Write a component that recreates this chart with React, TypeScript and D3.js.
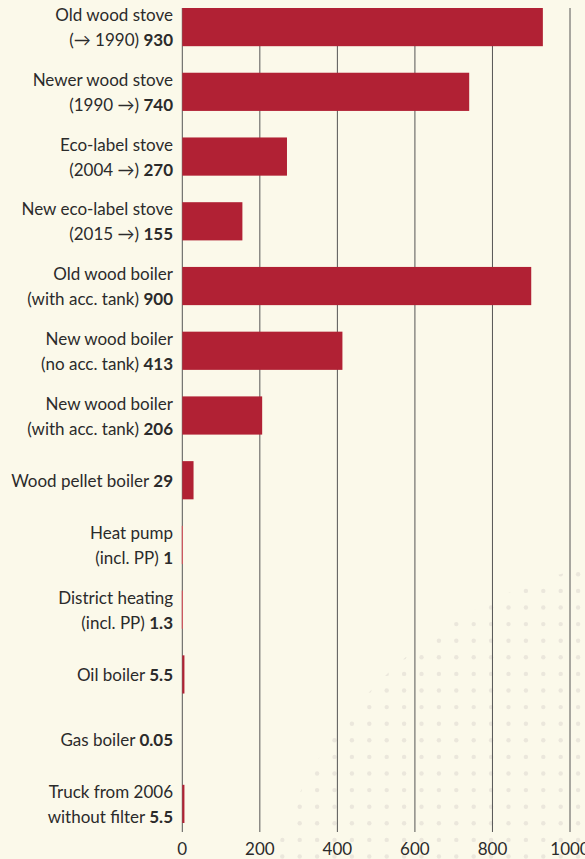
import React from "react";
import * as d3 from "d3";

const labelLine1 = [
  "Old wood stove",
  "Newer wood stove",
  "Eco-label stove",
  "New eco-label stove",
  "Old wood boiler",
  "New wood boiler",
  "New wood boiler",
  "",
  "Heat pump",
  "District heating",
  "",
  "",
  "Truck from 2006",
];
const labelLine2 = [
  "(→ 1990)",
  "(1990 →)",
  "(2004 →)",
  "(2015 →)",
  "(with acc. tank)",
  "(no acc. tank)",
  "(with acc. tank)",
  "Wood pellet boiler",
  "(incl. PP)",
  "(incl. PP)",
  "Oil boiler",
  "Gas boiler",
  "without filter",
];
const values = [930, 740, 270, 155, 900, 413, 206, 29, 1, 1.3, 5.5, 0.05, 5.5];
const valueLabels = ["930", "740", "270", "155", "900", "413", "206", "29", "1", "1.3", "5.5", "0.05", "5.5"];
const xTicks = [0, 200, 400, 600, 800, 1000];

const W = 585;
const H = 859;
const BG = "#fbf9ea";
const BAR = "#b12134";
const BAR_THIN = "#e0525c";
const TEXT = "#2b2b2b";
const GRID = "#555555";
const DOT = "#ebe7dc";
const FONT = "Lato, 'Noto Sans', sans-serif";

export default function App() {
  const idx = values.map((_, i) => String(i));
  const x = d3.scaleLinear().domain([0, 1000]).range([182.3, 570]);
  const y = d3.scaleBand<string>().domain(idx).range([8, 823]).paddingInner(0.41).paddingOuter(0);
  const bw = y.bandwidth();

  // decorative dot field
  const dots: { cx: number; cy: number }[] = [];
  for (let r = -20; r < 30; r++) {
    for (let c = -20; c < 20; c++) {
      const cx = 386.7 + c * 17.4;
      const cy = 574.3 + r * 16.6;
      if (cx > -5 && cx < W + 5 && cy > 540 && cy < H + 5) dots.push({ cx, cy });
    }
  }

  return (
    <svg
      width={W}
      height={H}
      style={{ position: "absolute", left: 0, top: 0, display: "block" }}
      fontFamily={FONT}
    >
      <defs>
        <clipPath id="dotclip">
          <circle cx={678} cy={979} r={421.6} />
        </clipPath>
      </defs>
      <rect x={0} y={0} width={W} height={H} fill={BG} />
      <g clipPath="url(#dotclip)">
        {dots.map((d, i) => (
          <circle key={i} cx={d.cx} cy={d.cy} r={2.2} fill={DOT} />
        ))}
      </g>
      {/* gridlines */}
      {xTicks.map((t) => (
        <line key={t} x1={x(t)} x2={x(t)} y1={8} y2={832} stroke={GRID} strokeWidth={1} />
      ))}
      {/* bars */}
      {values.map((v, i) => {
        const top = y(String(i)) as number;
        const w = x(v) - x(0);
        const thin = v >= 1 && v < 2;
        return (
          <rect
            key={i}
            x={thin ? x(0) - 0.5 : x(0)}
            y={top}
            width={thin ? Math.max(w, 1) : w}
            height={bw}
            fill={thin ? BAR_THIN : BAR}
          />
        );
      })}
      {/* labels */}
      {values.map((v, i) => {
        const c = (y(String(i)) as number) + bw / 2;
        const two = labelLine1[i] !== "";
        return (
          <g key={i} fontSize={17} fill={TEXT} textAnchor="end">
            {two && (
              <text x={173} y={c - 12 + 6}>
                {labelLine1[i]}
              </text>
            )}
            <text x={173} y={two ? c + 13 + 6 : c + 1 + 6}>
              {labelLine2[i]}{" "}
              <tspan fontWeight="bold">{valueLabels[i]}</tspan>
            </text>
          </g>
        );
      })}
      {/* x axis tick labels */}
      {xTicks.map((t) => (
        <text key={t} x={x(t)} y={855} fontSize={17} fill={TEXT} textAnchor="middle">
          {t}
        </text>
      ))}
    </svg>
  );
}
